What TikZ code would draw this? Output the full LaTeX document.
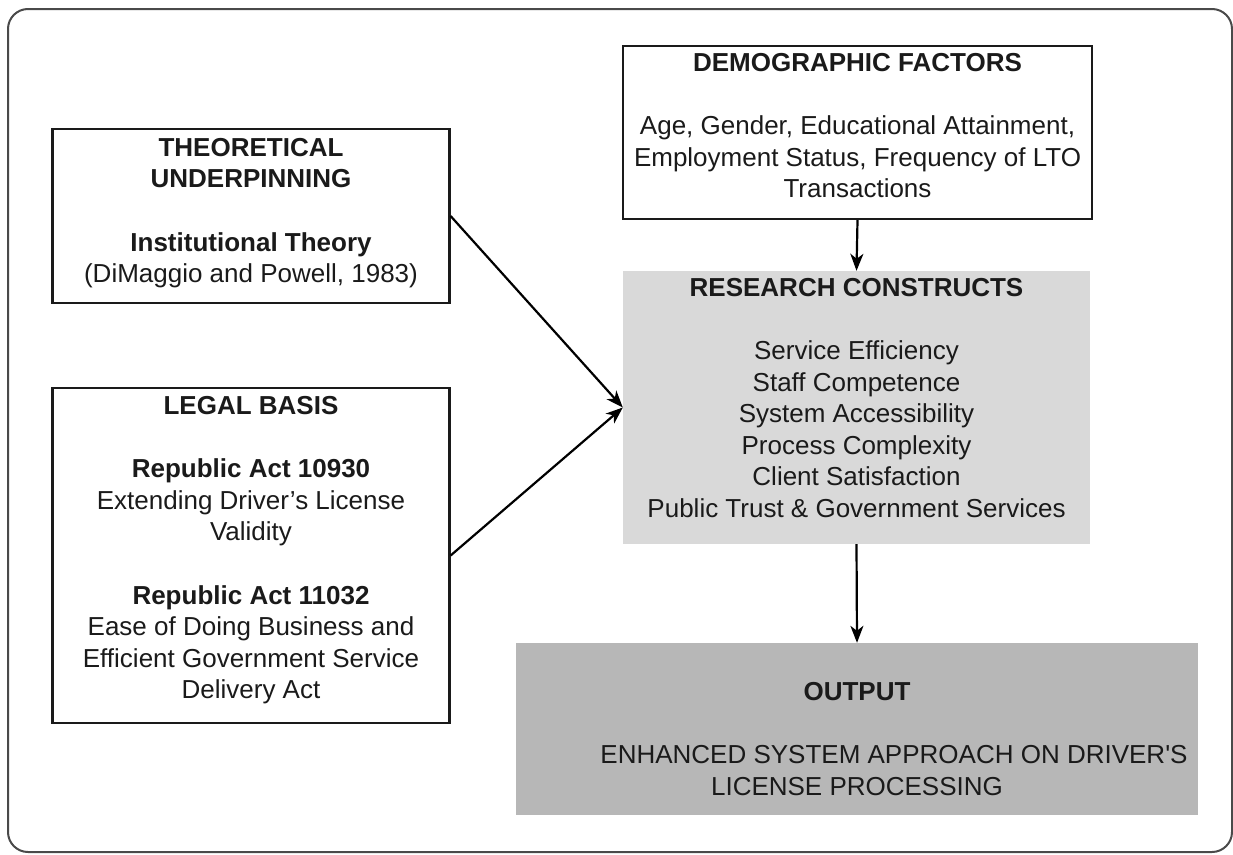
\documentclass[tikz,border=0pt]{standalone}
\usepackage{fontspec}
\setmainfont{Liberation Sans}
\usetikzlibrary{arrows.meta}
\definecolor{framegray}{HTML}{4A4A4A}
\definecolor{inkdark}{HTML}{1A1A1A}
\definecolor{constructfill}{HTML}{D9D9D9}
\definecolor{outputfill}{HTML}{B7B7B7}
\begin{document}
\begin{tikzpicture}[x=1pt,y=-1pt,
  framebox/.style={draw=inkdark, line width=2.2pt, inner sep=0pt},
  shadedbox/.style={draw=none, inner sep=0pt},
  label text/.style={anchor=north, align=center, inner sep=0pt, text=inkdark,
    font=\fontsize{26}{31.5}\selectfont},
  arr/.style={draw=black, line width=2.2pt,
    -{Stealth[length=17pt, width=13pt, inset=5pt]}}]
\useasboundingbox (0,0) rectangle (1233,854);

% outer rounded frame
\draw[draw=framegray, line width=2pt, rounded corners=20pt] (8,9) rectangle (1232,852);

% boxes
\node[framebox, minimum width=397pt, minimum height=174pt] (th) at (251,216) {};
\node[framebox, minimum width=397pt, minimum height=335pt] (legal) at (251,555.5) {};
\node[framebox, minimum width=469pt, minimum height=173pt] (demo) at (857.5,132.5) {};
\node[shadedbox, fill=constructfill, minimum width=467pt, minimum height=273pt] (rc) at (856.5,407.5) {};
\node[shadedbox, fill=outputfill, minimum width=682pt, minimum height=172pt] (out) at (857,729) {};

% box texts
\node[label text] (thtext) at (251,137.7)
  {\textbf{THEORETICAL}\\\textbf{UNDERPINNING}\\[32pt]\textbf{Institutional Theory}\\(DiMaggio and Powell, 1983)};
\node[label text] (legaltext) at (251,395.7)
  {\textbf{LEGAL BASIS}\\[32pt]\textbf{Republic Act 10930}\\Extending Driver’s License\\Validity\\[32pt]%
   \textbf{Republic Act 11032}\\Ease of Doing Business and\\Efficient Government Service\\Delivery Act};
\node[label text] (demotext) at (857.5,52.7)
  {\textbf{DEMOGRAPHIC FACTORS}\\[32pt]Age, Gender, Educational Attainment,\\Employment Status, Frequency of LTO\\Transactions};
\node[label text] (rctext) at (856.5,277.7)
  {\textbf{RESEARCH CONSTRUCTS}\\[32pt]Service Efficiency\\Staff Competence\\System Accessibility\\Process Complexity\\Client Satisfaction\\Public Trust \& Government Services};
\node[label text] (outtext) at (857,681.7)
  {\textbf{OUTPUT}\\[32pt]\hspace*{74pt}ENHANCED SYSTEM APPROACH ON DRIVER\textquotesingle S\\LICENSE PROCESSING};

% connectors
\draw[arr] (th.east) -- (rc.west);
\draw[arr] (legal.east) -- (rc.west);
\draw[arr] (demo.south) -- (rc.north);
\draw[arr] (rc.south) -- (out.north);
\end{tikzpicture}
\end{document}
